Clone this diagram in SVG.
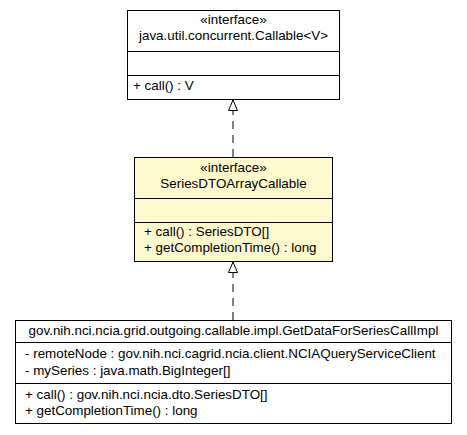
<svg xmlns="http://www.w3.org/2000/svg" width="467" height="435" viewBox="0 0 467 435">
<style>
text{font-family:"Liberation Sans",Arial,sans-serif;font-size:13.4px;fill:#000}
.c{text-anchor:middle}
.box{fill:#fff;stroke:#000;stroke-width:1}
.focus{fill:#fffacd}
.sep{stroke:#000;stroke-width:1}
.dash{stroke:#000;stroke-width:1;stroke-dasharray:8,6;fill:none}
</style>
<defs>
<marker id="tri" markerWidth="12" markerHeight="16" refX="11" refY="5" orient="auto" markerUnits="userSpaceOnUse" viewBox="0 0 12 10">
<path d="M0.5,0.5 L11,5 L0.5,9.5 Z" fill="#fff" stroke="#000" stroke-width="1"/>
</marker>
</defs>
<rect width="467" height="435" fill="#fff"/>
<g id="edges">
<line class="dash" x1="233" y1="157" x2="233" y2="100" marker-end="url(#tri)"/>
<line class="dash" x1="233" y1="320" x2="233" y2="262" marker-end="url(#tri)"/>
</g>
<g id="callable">
<rect class="box" x="127.5" y="10.5" width="212" height="89"/>
<line class="sep" x1="127.5" y1="51.5" x2="339.5" y2="51.5"/>
<line class="sep" x1="127.5" y1="75.5" x2="339.5" y2="75.5"/>
<text class="c" x="233.5" y="24">«interface»</text>
<text class="c" x="233.5" y="40">java.util.concurrent.Callable&lt;V&gt;</text>
<text x="133" y="90">+ call() : V</text>
</g>
<g id="seriesDTOArrayCallable">
<rect class="box focus" x="134.5" y="157.5" width="198" height="104"/>
<line class="sep" x1="134.5" y1="198.5" x2="332.5" y2="198.5"/>
<line class="sep" x1="134.5" y1="222.5" x2="332.5" y2="222.5"/>
<text class="c" x="233.5" y="172">«interface»</text>
<text class="c" x="233.5" y="188">SeriesDTOArrayCallable</text>
<text x="144" y="236">+ call() : SeriesDTO[]</text>
<text x="144" y="252">+ getCompletionTime() : long</text>
</g>
<g id="getDataForSeriesCallImpl">
<rect class="box" x="15.5" y="320.5" width="436" height="103"/>
<line class="sep" x1="15.5" y1="342.5" x2="451.5" y2="342.5"/>
<line class="sep" x1="15.5" y1="383.5" x2="451.5" y2="383.5"/>
<text class="c" x="233.5" y="335">gov.nih.nci.ncia.grid.outgoing.callable.impl.GetDataForSeriesCallImpl</text>
<text x="25" y="358">- remoteNode : gov.nih.nci.cagrid.ncia.client.NCIAQueryServiceClient</text>
<text x="25" y="375">- mySeries : java.math.BigInteger[]</text>
<text x="25" y="399">+ call() : gov.nih.nci.ncia.dto.SeriesDTO[]</text>
<text x="25" y="415">+ getCompletionTime() : long</text>
</g>
</svg>
